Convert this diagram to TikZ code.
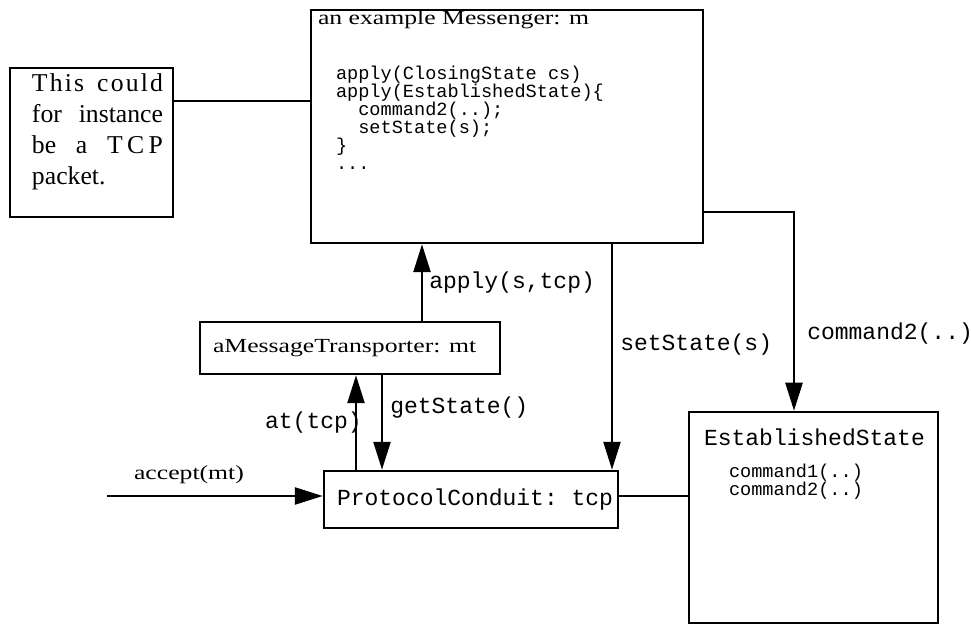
\documentclass[tikz,border=0pt]{standalone}
\usepackage{fontspec}
\setmainfont{Liberation Serif}[FakeStretch=1.285]
\setmonofont{Liberation Mono}
\newfontfamily\notefont{Liberation Serif}
\usetikzlibrary{arrows.meta,positioning}

% glue for the justified note lines
\newcommand{\lsp}{\hskip0pt plus 1fil\relax}
\newcommand{\wsp}{\ \hskip0pt plus 3fil\relax}

\begin{document}
\begin{tikzpicture}[x=0.5pt,y=-0.5pt,line width=1.25pt,
    box/.style={draw,rectangle,inner sep=0pt},
    call/.style={-{Triangle[length=14pt,width=8.5pt]}},
    msg/.style={font=\fontsize{11.5}{12}\ttfamily,inner sep=0pt},
    code/.style={font=\fontsize{9.3}{9}\ttfamily,inner sep=0pt,align=left},
    txt/.style={font=\fontsize{10}{12}\rmfamily,inner sep=0pt},
    notetxt/.style={font=\fontsize{12.85}{15.5}\notefont,inner sep=0pt,align=left}]
	\useasboundingbox (0,0) rectangle (971,626);
	
	% the objects
	\node[box,minimum width=81.5pt,minimum height=74.5pt] (note) at (91.5,142.5) {};
	\node[box,minimum width=196pt,minimum height=116.5pt] (msgr) at (507,126.5) {};
	\node[box,minimum width=150pt,minimum height=26pt] (mt) at (350,348) {};
	\node[box,minimum width=147pt,minimum height=28.5pt] (tcp) at (471,499.5) {};
	\node[box,minimum width=124.5pt,minimum height=105.5pt] (est) at (813.5,517.5) {};
	
	% what is written in them
	\node[notetxt,anchor=north west] (notetext) at ([shift={(11pt,-3pt)}]note.north west)
		{\makebox[65.5pt][s]{T\lsp h\lsp i\lsp s\wsp c\lsp o\lsp u\lsp l\lsp d}\\
		 \makebox[65.5pt][s]{for instance}\\
		 \makebox[65.5pt][s]{be\wsp a\wsp T\lsp C\lsp P}\\
		 packet.};
	\node[txt,anchor=base west] (msgrname) at ([shift={(3.5pt,-8pt)}]msgr.north west) {an example Messenger: m};
	\node[code,anchor=north west] (msgrcode) at ([shift={(12.5pt,-28pt)}]msgr.north west)
		{apply(ClosingState cs)\\apply(EstablishedState)\{\\\ \ command2(..);\\\ \ setState(s);\\\}\\...};
	\node[txt,anchor=west] (mtname) at ([xshift=6.5pt]mt.west) {aMessageTransporter: mt};
	\node[msg,anchor=west] (tcpname) at ([xshift=6.5pt]tcp.west) {ProtocolConduit: tcp};
	\node[msg,anchor=base west] (estname) at ([shift={(7.5pt,-17.5pt)}]est.north west) {EstablishedState};
	\node[code,anchor=north west] (estops) at ([shift={(20pt,-26pt)}]est.north west) {command1(..)\\command2(..)};
	
	% the messages
	\draw (note.east |- 0,101) -- (msgr.west |- 0,101);
	\draw[call] (mt.north -| 422,0) -- (msgr.south -| 422,0)
		node[msg,midway,anchor=west,xshift=3pt] (applylbl) {apply(s,tcp)};
	\draw[call] (tcp.north -| 356,0) -- (mt.south -| 356,0)
		node[msg,midway,anchor=east,xshift=3.5pt] (atlbl) {at(tcp)};
	\draw[call] (mt.south -| 382,0) -- (tcp.north -| 382,0)
		node[msg,pos=0.34,anchor=west,xshift=3.5pt] (getlbl) {getState()};
	\draw[call] (msgr.south -| 612,0) -- (tcp.north -| 612,0)
		node[msg,pos=0.446,anchor=west,xshift=3.5pt] (setlbl) {setState(s)};
	\draw[call] (msgr.east |- 0,212) -| (est.north -| 794,0)
		node[msg,pos=0.805,anchor=west,xshift=6pt] (cmdlbl) {command2(..)};
	\coordinate (src) at (107,496);
	\draw[call] (src) -- (tcp.west |- src)
		node[txt,pos=0.38,anchor=base,yshift=8pt] (acceptlbl) {accept(mt)};
	\draw (tcp.east |- src) -- (est.west |- src);
\end{tikzpicture}
\end{document}
